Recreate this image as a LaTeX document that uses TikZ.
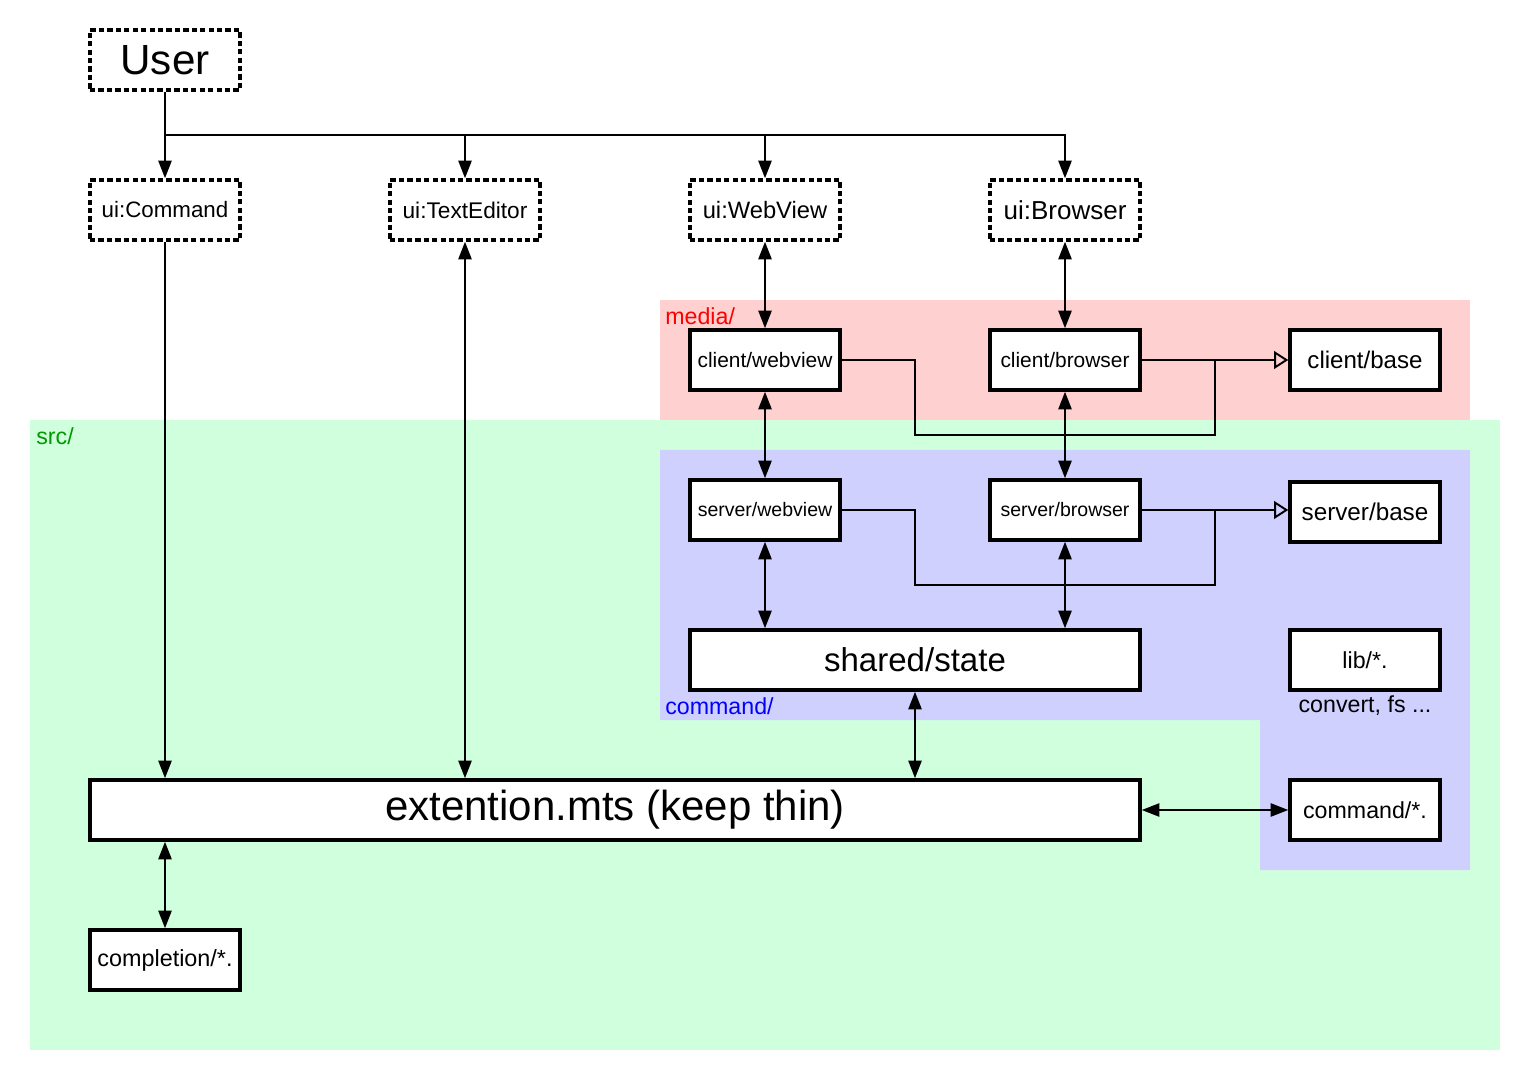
\documentclass[tikz,border=0pt]{standalone}
\usepackage{fontspec}
\setmainfont{Liberation Sans}
\usetikzlibrary{arrows.meta,positioning,calc}
\definecolor{MediaRed}{RGB}{255,208,208}
\definecolor{SrcGreen}{RGB}{208,255,221}
\definecolor{CmdBlue}{RGB}{208,208,255}
\definecolor{SrcText}{RGB}{0,153,0}
\newcommand{\fs}[1]{\fontsize{#1}{#1}\selectfont}

\begin{document}
\begin{tikzpicture}[x=0.2mm,y=-0.2mm,
  box/.style={draw=black,fill=white,line width=2pt,minimum width=3cm,
    minimum height=1.2cm,inner sep=1pt,align=center,font=\fs{13.2}},
  dbox/.style={box,dash pattern=on 3pt off 1.8pt},
  flow/.style={-{Triangle[length=10pt,width=7.5pt]},line width=1.1pt},
  both/.style={{Triangle[length=10pt,width=7.5pt]}-{Triangle[length=10pt,width=7.5pt]},line width=1.1pt},
  inherit/.style={-{Triangle[open,length=8pt,width=10pt]},line width=1.1pt},
  line/.style={line width=1.1pt},
  area/.style={font=\fs{13.2},anchor=west,inner sep=0pt}]
\useasboundingbox (0,0) rectangle (1530,1080);
% package areas
\fill[SrcGreen] (30,420) rectangle (1500,1050);
\fill[MediaRed] (660,300) rectangle (1470,420);
\fill[CmdBlue] (660,450) -- (1470,450) -- (1470,870) -- (1260,870)
  -- (1260,720) -- (660,720) -- cycle;
\node[area,text=red] (medialbl) at (665,316) {media/};
\node[area,text=SrcText] (srclbl) at (36,436) {src/};
\node[area,text=blue] (cmdlbl) at (665,706) {command/};
% user and ui
\node[dbox,font=\fs{24}] (user) at (165,60) {User};
\node[dbox,font=\fs{12.7}] (uicmd) at (165,210) {ui:Command};
\node[dbox,font=\fs{12.9}] (uitxt) at (465,210) {ui:TextEditor};
\node[dbox,font=\fs{13.5}] (uiweb) at (765,210) {ui:WebView};
\node[dbox,font=\fs{14.8}] (uibrw) at (1065,210) {ui:Browser};
% client side
\node[box,font=\fs{11.9}] (cweb) at (765,360) {client/webview};
\node[box,font=\fs{11.9}] (cbrw) at (1065,360) {client/browser};
\node[box,font=\fs{13.7}] (cbase) at (1365,360) {client/base};
% server side
\node[box,font=\fs{11.1}] (sweb) at (765,510) {server/webview};
\node[box,font=\fs{11.1}] (sbrw) at (1065,510) {server/browser};
\node[box,font=\fs{13.8}] (sbase) at (1365,512) {server/base};
\node[box,minimum width=9cm,font=\fs{18.8}] (state) at (915,660) {shared/state};
\node[box] (lib) at (1365,660) {lib/*.};
\node[font=\fs{13.2},below=1pt of lib,inner sep=1pt] (libnote) {convert, fs ...};
% extension
\node[box,minimum width=21cm,font=\fs{23.9}] (ext) at (615,810) {extention.mts (keep thin)};
\node[box] (cmdall) at (1365,810) {command/*.};
\node[box,font=\fs{13.3}] (comp) at (165,960) {completion/*.};
% connectors
\coordinate (bus) at (165,135);
\draw[flow] (user) -- (uicmd);
\draw[flow] (bus) -| (uitxt);
\draw[flow] (bus) -| (uiweb);
\draw[flow] (bus) -| (uibrw);
\draw[flow] (uicmd) -- (uicmd |- ext.north);
\draw[both] (uitxt) -- (uitxt |- ext.north);
\draw[both] (uiweb) -- (cweb);
\draw[both] (uibrw) -- (cbrw);
\draw[both] (cweb) -- (sweb);
\draw[both] (cbrw) -- (sbrw);
\draw[both] (sweb) -- (sweb |- state.north);
\draw[both] (sbrw) -- (sbrw |- state.north);
\draw[both] (state) -- (state |- ext.north);
\draw[both] (ext.east |- cmdall) -- (cmdall);
\draw[both] (comp |- ext.south) -- (comp);
% inheritance
\coordinate (cjoin) at (1215,360);
\coordinate (sjoin) at (1215,510);
\draw[line] (cweb.east) -| (915,435) -| (cjoin);
\draw[inherit] (cbrw) -- (cbase);
\draw[line] (sweb.east) -| (915,585) -| (sjoin);
\draw[inherit] (sbrw.east) -- (sbrw.east -| sbase.west);
\end{tikzpicture}
\end{document}
